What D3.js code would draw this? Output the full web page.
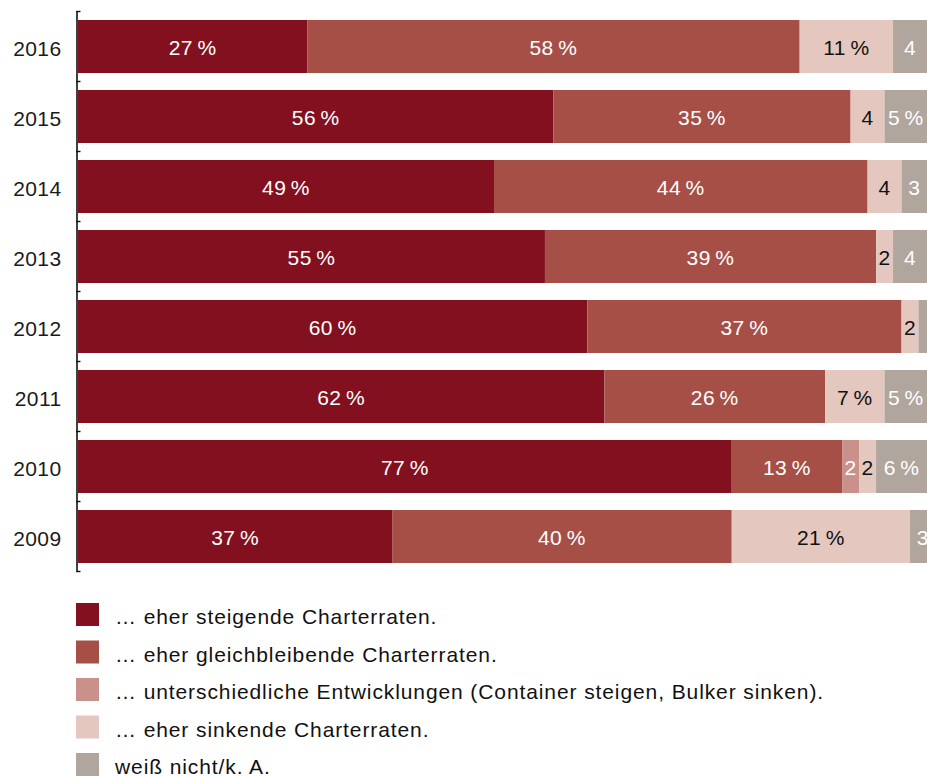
<!DOCTYPE html>
<html>
<head>
<meta charset="utf-8">
<script src="https://cdn.jsdelivr.net/npm/d3@7"></script>
<style>
  html, body { margin: 0; padding: 0; background: #fff; }
  svg { display: block; font-family: "Liberation Sans", Arial, sans-serif; }
</style>
</head>
<body>
<svg id="chart" width="927" height="776"></svg>
<script>
// Survey years, top to bottom
const years = ["2016", "2015", "2014", "2013", "2012", "2011", "2010", "2009"];

// Share of answers per year (percent)
const steigend        = [27, 56, 49, 55, 60, 62, 77, 37];
const gleichbleibend  = [58, 35, 44, 39, 37, 26, 13, 40];
const unterschiedlich = [0, 0, 0, 0, 0, 0, 2, 0];
const sinkend         = [11, 4, 4, 2, 2, 7, 2, 21];
const weissNicht      = [4, 5, 3, 4, 1, 5, 6, 3];

const seriesKeys = ["steigend", "gleichbleibend", "unterschiedlich", "sinkend", "weissNicht"];
const seriesLabels = [
  "\u2026 eher steigende Charterraten.",
  "\u2026 eher gleichbleibende Charterraten.",
  "\u2026 unterschiedliche Entwicklungen (Container steigen, Bulker sinken).",
  "\u2026 eher sinkende Charterraten.",
  "wei\u00df nicht/k. A."
];
const seriesColors = ["#82101f", "#a54f47", "#c9918a", "#e4c7bf", "#b0a69e"];
const labelColors  = ["#ffffff", "#ffffff", "#ffffff", "#111111", "#ffffff"];

const rows = years.map((y, i) => ({
  year: y,
  steigend: steigend[i],
  gleichbleibend: gleichbleibend[i],
  unterschiedlich: unterschiedlich[i],
  sinkend: sinkend[i],
  weissNicht: weissNicht[i]
}));

const svg = d3.select("#chart");

const x = d3.scaleLinear().domain([0, 100]).range([78, 927]);
const y = d3.scaleBand()
  .domain(years)
  .range([11.5, 571.5])
  .paddingInner(0.243)
  .paddingOuter(0.1215);

const stacked = d3.stack().keys(seriesKeys)(rows);

// Segments of 5 % or more carry the percent sign, small ones only the number
const fmt = v => v >= 5 ? v + "\u2009%" : (v >= 2 ? String(v) : "");

const layers = svg.append("g").selectAll("g")
  .data(stacked)
  .join("g")
  .attr("fill", (d, i) => seriesColors[i]);

layers.selectAll("rect")
  .data(d => d.map(s => ({ s, year: s.data.year })))
  .join("rect")
  .attr("x", d => x(d.s[0]))
  .attr("y", d => y(d.year))
  .attr("width", d => Math.max(0, x(d.s[1]) - x(d.s[0])))
  .attr("height", y.bandwidth());

// Value labels centred in each segment
stacked.forEach((layer, i) => {
  svg.append("g")
    .selectAll("text")
    .data(layer.filter(s => s[1] - s[0] > 0))
    .join("text")
    .attr("x", s => (x(s[0]) + x(s[1])) / 2)
    .attr("y", s => y(s.data.year) + y.bandwidth() / 2)
    .attr("dy", "0.41em")
    .attr("text-anchor", "middle")
    .attr("font-size", 21)
    .attr("letter-spacing", "0.4px")
    .attr("fill", labelColors[i])
    .text(s => fmt(s[1] - s[0]));
});

// Category axis: vertical rule with ticks at band boundaries
const gap = y.step() - y.bandwidth();
const tickYs = years.map(yr => y(yr) - gap / 2)
  .concat([y(years[years.length - 1]) + y.bandwidth() + gap / 2]);
const axis = svg.append("g");
axis.append("line")
  .attr("x1", 77).attr("x2", 77)
  .attr("y1", tickYs[0]).attr("y2", tickYs[tickYs.length - 1])
  .attr("stroke", "#111").attr("stroke-width", 1.6);
axis.selectAll("line.tick")
  .data(tickYs)
  .join("line")
  .attr("class", "tick")
  .attr("x1", 76.2).attr("x2", 80.5)
  .attr("y1", d => d).attr("y2", d => d)
  .attr("stroke", "#111").attr("stroke-width", 1.4);

axis.selectAll("text")
  .data(years)
  .join("text")
  .attr("x", 61.5)
  .attr("y", d => y(d) + y.bandwidth() / 2)
  .attr("dy", "0.44em")
  .attr("text-anchor", "end")
  .attr("font-size", 21)
  .attr("letter-spacing", "0.4px")
  .attr("fill", "#1a1a1a")
  .text(d => d);

// Legend
const legend = svg.append("g").attr("transform", "translate(76,603)");
const items = legend.selectAll("g")
  .data(seriesLabels)
  .join("g")
  .attr("transform", (d, i) => `translate(0,${i * 37.5})`);
items.append("rect")
  .attr("width", 23).attr("height", 23)
  .attr("fill", (d, i) => seriesColors[i]);
items.append("text")
  .attr("x", 39)
  .attr("y", 21)
  .attr("font-size", 21)
  .attr("letter-spacing", "0.9px")
  .attr("fill", "#111")
  .text(d => d);
</script>
</body>
</html>
